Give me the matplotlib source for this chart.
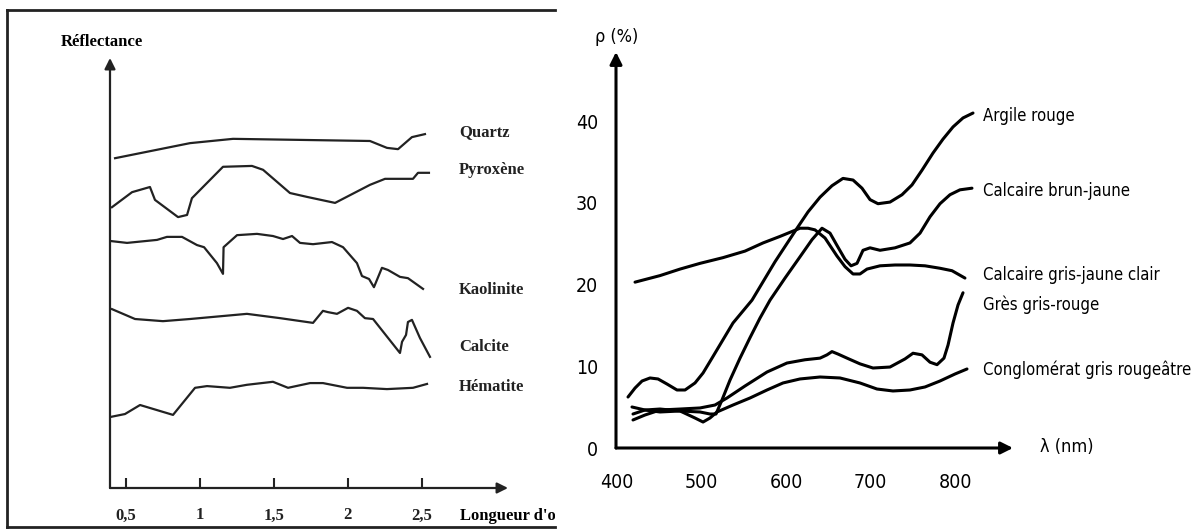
import matplotlib
matplotlib.use("Agg")
import matplotlib.pyplot as plt

# ---- left panel: mineral spectra (wavelength in µm, reflectance in arbitrary units)
quartz_x = [0.426, 0.933, 1.224, 2.150, 2.265, 2.340, 2.434, 2.522]
quartz_y = [76.7, 80.2, 81.2, 80.7, 79.1, 78.8, 81.6, 82.3]

pyroxene_x = [0.405, 0.541, 0.662, 0.696, 0.852, 0.913, 0.946, 1.156, 1.352, 1.427,
              1.609, 1.724, 1.914, 2.150, 2.252, 2.441, 2.475, 2.549]
pyroxene_y = [65.3, 68.8, 70.0, 67.0, 63.0, 63.5, 67.4, 74.7, 74.9, 74.0,
              68.6, 67.7, 66.3, 70.5, 71.9, 71.9, 73.3, 73.3]

kaolinite_x = [0.405, 0.507, 0.710, 0.777, 0.879, 0.980, 1.028, 1.115, 1.156, 1.160,
               1.251, 1.386, 1.494, 1.562, 1.623, 1.677, 1.765, 1.893, 1.968, 2.062,
               2.096, 2.144, 2.177, 2.231, 2.272, 2.353, 2.407, 2.509]
kaolinite_y = [57.4, 57.0, 57.7, 58.4, 58.4, 56.5, 56.0, 52.3, 49.8, 56.0,
               58.8, 59.1, 58.6, 57.9, 58.6, 57.0, 56.7, 57.2, 56.0, 52.3,
               49.3, 48.6, 46.7, 51.2, 50.7, 49.1, 48.8, 46.3]

calcite_x = [0.405, 0.561, 0.750, 0.933, 1.318, 1.542, 1.765, 1.832, 1.866, 1.927,
             2.002, 2.062, 2.116, 2.171, 2.353, 2.367, 2.394, 2.407, 2.434, 2.488, 2.556]
calcite_y = [41.6, 39.3, 38.8, 39.3, 40.5, 39.5, 38.4, 41.2, 40.9, 40.5,
             41.9, 41.2, 39.5, 39.3, 31.4, 34.0, 35.6, 38.6, 39.1, 34.9, 30.5]

hematite_x = [0.392, 0.493, 0.595, 0.818, 0.967, 1.048, 1.203, 1.318, 1.494, 1.596,
              1.745, 1.832, 1.995, 2.103, 2.265, 2.441, 2.536]
hematite_y = [16.5, 17.2, 19.3, 17.0, 23.3, 23.7, 23.3, 24.0, 24.7, 23.3,
              24.4, 24.4, 23.3, 23.3, 23.0, 23.3, 24.2]

minerals = ["Quartz", "Pyroxène", "Kaolinite", "Calcite", "Hématite"]
mineral_label_y = [82.8, 74.0, 46.0, 32.8, 23.5]
left_ticks = [0.5, 1, 1.5, 2, 2.5]
left_ticklabels = ["0,5", "1", "1,5", "2", "2,5"]

# ---- right panel: rock spectra (wavelength in nm, reflectance in %)
argile_x = [413.0, 421.3, 429.6, 439.0, 448.5, 459.1, 470.9, 480.4, 492.2, 501.7,
            512.3, 537.1, 559.6, 586.8, 612.8, 625.8, 640.0, 654.1, 667.1, 679.0,
            689.6, 699.1, 708.5, 722.7, 736.9, 748.7, 760.5, 773.5, 785.3, 797.2,
            809.0, 820.8]
argile_y = [6.24, 7.34, 8.20, 8.57, 8.45, 7.83, 7.10, 7.10, 7.96, 9.18,
            11.0, 15.3, 18.1, 22.8, 26.9, 28.9, 30.7, 32.1, 33.0, 32.8,
            31.8, 30.4, 29.9, 30.1, 31.0, 32.2, 34.0, 36.1, 37.8, 39.3,
            40.4, 41.0]

brun_x = [417.7, 433.1, 450.8, 474.5, 498.1, 509.9, 517.0, 524.1, 533.6, 545.4,
          557.2, 569.0, 580.9, 598.6, 616.3, 630.5, 642.3, 651.8, 660.0, 669.5,
          676.6, 683.7, 690.8, 699.1, 710.9, 728.6, 746.3, 758.2, 770.0, 781.8,
          793.6, 805.4, 819.6]
brun_y = [5.02, 4.65, 4.41, 4.53, 4.41, 4.16, 4.16, 5.88, 8.32, 11.0,
          13.5, 15.9, 18.1, 20.8, 23.4, 25.5, 26.9, 26.3, 24.8, 23.1,
          22.3, 22.6, 24.2, 24.5, 24.2, 24.5, 25.1, 26.3, 28.3, 29.9,
          31.0, 31.6, 31.8]

gris_x = [421.3, 450.8, 474.5, 498.1, 525.3, 551.3, 572.6, 592.7, 604.5, 616.3,
          625.8, 634.0, 645.9, 660.0, 669.5, 679.0, 687.2, 695.5, 710.9, 728.6,
          746.3, 764.1, 781.8, 796.0, 811.3]
gris_y = [20.3, 21.1, 21.9, 22.6, 23.3, 24.1, 25.1, 25.9, 26.4, 26.9,
          26.9, 26.7, 25.7, 23.5, 22.2, 21.3, 21.3, 21.9, 22.3, 22.4,
          22.4, 22.3, 22.0, 21.7, 20.8]

gres_x = [418.9, 433.1, 450.8, 474.5, 498.1, 515.8, 530.0, 551.3, 577.3, 600.9,
          622.2, 640.0, 648.2, 654.1, 661.2, 671.9, 687.2, 702.6, 722.7, 740.4,
          749.9, 760.5, 770.0, 778.3, 786.5, 791.3, 797.2, 803.1, 809.0]
gres_y = [3.43, 4.04, 4.65, 4.77, 4.90, 5.26, 6.12, 7.59, 9.30, 10.4,
          10.8, 11.0, 11.4, 11.8, 11.5, 11.0, 10.3, 9.79, 9.91, 10.9,
          11.6, 11.4, 10.5, 10.2, 11.0, 12.6, 15.3, 17.5, 19.0]

congl_x = [418.9, 433.1, 450.8, 474.5, 492.2, 501.7, 509.9, 518.2, 537.1, 557.2,
           577.3, 596.2, 616.3, 640.0, 663.6, 687.2, 707.3, 726.2, 746.3, 764.1,
           781.8, 799.6, 813.7]
congl_y = [4.16, 4.65, 4.77, 4.53, 3.67, 3.18, 3.67, 4.41, 5.26, 6.12,
           7.10, 7.96, 8.45, 8.69, 8.57, 7.96, 7.22, 6.98, 7.10, 7.47,
           8.20, 9.06, 9.67]

rocks = ["Argile rouge", "Calcaire brun-jaune", "Calcaire gris-jaune clair",
         "Grès gris-rouge", "Conglomérat gris rougeâtre"]
rock_label_y = [40.6, 31.4, 21.2, 17.5, 9.55]
right_xticks = [400, 500, 600, 700, 800]
right_yticks = [0, 10, 20, 30, 40]

W, H = 1198, 529
fig = plt.figure(figsize=(W / 100, H / 100), dpi=100)


def px_axes(l, t, r, b):
    return fig.add_axes([l / W, (H - b) / H, (r - l) / W, (b - t) / H])


serif = ["Liberation Serif", "DejaVu Serif"]
narrow = dict(family="DejaVu Sans", stretch="condensed")

# frame around the left figure
frame = px_axes(7, 10, 555, 527)
frame.set_xticks([])
frame.set_yticks([])
frame.patch.set_alpha(0)
frame.spines["right"].set_visible(False)
for s in ["top", "left", "bottom"]:
    frame.spines[s].set_linewidth(2)
    frame.spines[s].set_color("#222222")

# left plot
ax1 = px_axes(110, 58, 508, 488)
ax1.set_xlim(0.3918, 3.0837)
ax1.set_ylim(0, 100)
for s in ax1.spines.values():
    s.set_visible(False)
ax1.patch.set_alpha(0)
arrow_kw = dict(arrowstyle="-|>", lw=1.6, color="#222222", shrinkA=0, shrinkB=0, mutation_scale=16)
ax1.annotate("", xy=(0, 1), xytext=(0, 0), xycoords="axes fraction", arrowprops=arrow_kw)
ax1.annotate("", xy=(1, 0), xytext=(0, 0), xycoords="axes fraction", arrowprops=arrow_kw)

left_series = [(quartz_x, quartz_y), (pyroxene_x, pyroxene_y), (kaolinite_x, kaolinite_y),
               (calcite_x, calcite_y), (hematite_x, hematite_y)]
for (xs, ys), name, ly in zip(left_series, minerals, mineral_label_y):
    ax1.plot(xs, ys, color="#222222", lw=1.6, solid_joinstyle="round")
    ax1.text(2.752, ly, name, ha="left", va="center", family=serif,
             fontweight="bold", fontsize=12, color="#222222")

ax1.set_xticks(left_ticks)
ax1.set_xticklabels(left_ticklabels, family=serif, fontweight="bold", fontsize=12)
ax1.set_yticks([])
ax1.tick_params(axis="x", direction="in", length=7, width=1.5, pad=14, colors="#222222")

ax1.text(0.334, 103.7, "Réflectance", ha="center", va="center", family=serif,
         fontweight="bold", fontsize=12, clip_on=False)
lab = ax1.text(2.759, -6.5, "Longueur d'onde", ha="left", va="center", family=serif,
               fontweight="bold", fontsize=12)
lab.set_clip_box(frame.bbox)
lab.set_clip_on(True)

# right plot
ax2 = px_axes(616, 52, 1013, 448)
ax2.set_xlim(398.8, 868.1)
ax2.set_ylim(0, 48.47)
for s in ax2.spines.values():
    s.set_visible(False)
ax2.patch.set_alpha(0)
arrow_kw2 = dict(arrowstyle="-|>", lw=2.2, color="black", shrinkA=0, shrinkB=0, mutation_scale=18)
ax2.annotate("", xy=(0, 1), xytext=(0, 0), xycoords="axes fraction", arrowprops=arrow_kw2)
ax2.annotate("", xy=(1, 0), xytext=(0, 0), xycoords="axes fraction", arrowprops=arrow_kw2)

right_series = [(argile_x, argile_y), (brun_x, brun_y), (gris_x, gris_y),
                (gres_x, gres_y), (congl_x, congl_y)]
for xs, ys in right_series:
    ax2.plot(xs, ys, color="black", lw=2.2, solid_joinstyle="round", solid_capstyle="round")
for name, ly in zip(rocks, rock_label_y):
    ax2.text(832.6, ly, name, ha="left", va="center", fontsize=12,
             clip_on=False, **narrow)

ax2.set_xticks(right_xticks)
ax2.set_xticklabels([str(v) for v in right_xticks], fontsize=14, **narrow)
ax2.set_yticks(right_yticks)
ax2.set_yticklabels([str(v) for v in right_yticks], fontsize=14, **narrow)
ax2.tick_params(length=0)
ax2.tick_params(axis="x", pad=18)
ax2.tick_params(axis="y", pad=13)

ax2.text(400, 50.3, "ρ (%)", ha="center", va="center", fontsize=13, clip_on=False, **narrow)
ax2.text(900, 0.1, "λ (nm)", ha="left", va="center", fontsize=13, clip_on=False, **narrow)

fig.savefig("out.png", dpi=100)
